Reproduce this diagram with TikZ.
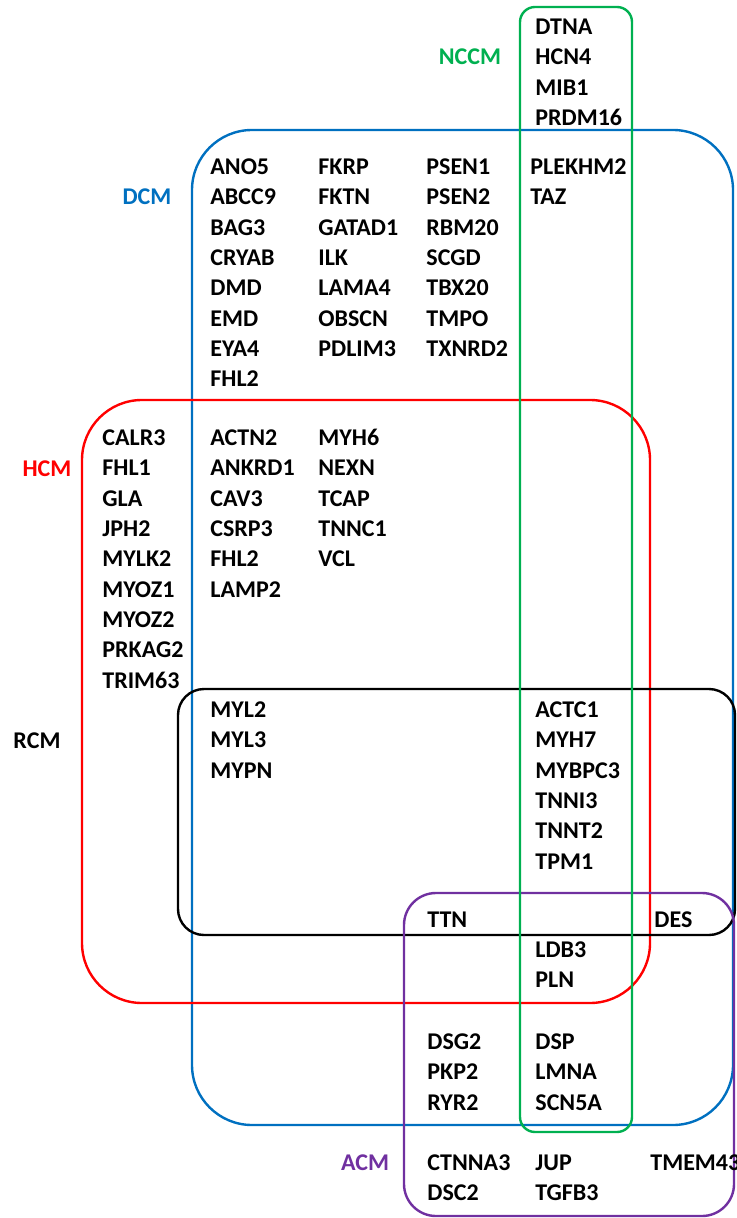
\documentclass[tikz,border=0pt]{standalone}
\usepackage{fontspec}
\setmainfont{Carlito}
\definecolor{nccmgreen}{RGB}{0,176,80}
\definecolor{dcmblue}{RGB}{0,112,192}
\definecolor{acmpurple}{RGB}{112,48,160}
\tikzset{
  gene/.style={anchor=west, inner sep=0pt, text height=7.6pt, text depth=0pt, font=\fontsize{12}{14}\selectfont\bfseries},
  setlabel/.style={inner sep=0pt, font=\fontsize{12}{14}\selectfont\bfseries},
  setbox/.style={line width=1.2pt}
}
% one column of genes, 30.3px apart
\newcommand{\genecol}[4]{%
  \foreach \g [count=\i from 0] in {#4}
    \node[gene] (#1-\i) at (#2,{-(#3)-30.3*\i}) {\g};}
\begin{document}
\begin{tikzpicture}[x=0.5pt,y=0.5pt]
			\useasboundingbox (0,0) rectangle (736,-1218);
			\clip (0,0) rectangle (736,-1218);
			% the five sets
			\draw[setbox, dcmblue, rounded corners=30pt] (192,-130) rectangle (733,-1125);
			\draw[setbox, red, rounded corners=30pt] (82,-400) rectangle (650,-1003);
			\draw[setbox, black, rounded corners=13pt] (178,-689) rectangle (735,-935);
			\draw[setbox, acmpurple, rounded corners=16pt] (404,-893) rectangle (734,-1216);
			\draw[setbox, nccmgreen, rounded corners=7.5pt] (520,-7) rectangle (632,-1132);
			% set names
			\node[setlabel, nccmgreen] (NCCM) at (470,-57) {NCCM};
			\node[setlabel, dcmblue] (DCM) at (147,-197) {DCM};
			\node[setlabel, red] (HCM) at (47,-469) {HCM};
			\node[setlabel, black] (RCM) at (37,-741) {RCM};
			\node[setlabel, acmpurple] (ACM) at (365,-1163) {ACM};
			% genes
			\genecol{nccm}{535}{27}{DTNA,HCN4,MIB1,PRDM16}
			\genecol{dcmA}{210}{167}{ANO5,ABCC9,BAG3,CRYAB,DMD,EMD,EYA4,FHL2}
			\genecol{dcmB}{318}{167}{FKRP,FKTN,GATAD1,ILK,LAMA4,OBSCN,PDLIM3}
			\genecol{dcmC}{426}{167}{PSEN1,PSEN2,RBM20,SCGD,TBX20,TMPO,TXNRD2}
			\genecol{dcmD}{530}{167}{PLEKHM2,TAZ}
			\genecol{hcm}{102}{438}{CALR3,FHL1,GLA,JPH2,MYLK2,MYOZ1,MYOZ2,PRKAG2,TRIM63}
			\genecol{hdA}{210}{438}{ACTN2,ANKRD1,CAV3,CSRP3,FHL2,LAMP2}
			\genecol{hdB}{318}{438}{MYH6,NEXN,TCAP,TNNC1,VCL}
			\genecol{rcmA}{210}{710}{MYL2,MYL3,MYPN}
			\genecol{rcmB}{535}{710}{ACTC1,MYH7,MYBPC3,TNNI3,TNNT2,TPM1}
			\genecol{ttn}{427}{920}{TTN}
			\genecol{des}{654}{920}{DES}
			\genecol{hdn}{535}{950}{LDB3,PLN}
			\genecol{adA}{427}{1042}{DSG2,PKP2,RYR2}
			\genecol{adB}{535}{1042}{DSP,LMNA,SCN5A}
			\genecol{acmA}{427}{1163}{CTNNA3,DSC2}
			\genecol{acmB}{535}{1163}{JUP,TGFB3}
			\genecol{acmC}{650}{1163}{TMEM43}
		\end{tikzpicture}
\end{document}
